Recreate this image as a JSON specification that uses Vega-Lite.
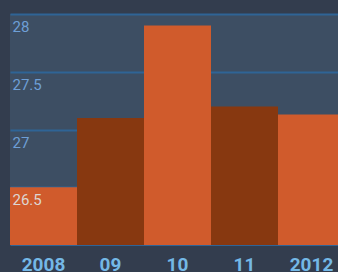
{
  "$schema": "https://vega.github.io/schema/vega-lite/v6.json",
  "width": 335,
  "height": 231,
  "autosize": "none",
  "padding": {"left": 10, "top": 14, "right": 0, "bottom": 27},
  "background": "#333d4e",
  "config": {
    "view": {"fill": "#3d4e63", "stroke": null},
    "font": "Roboto"
  },
  "data": {
    "values": [
      {"year": "2008", "value": 26.5, "shade": "light"},
      {"year": "09", "value": 27.1, "shade": "dark"},
      {"year": "10", "value": 27.9, "shade": "light"},
      {"year": "11", "value": 27.2, "shade": "dark"},
      {"year": "2012", "value": 27.13, "shade": "light"}
    ]
  },
  "encoding": {
    "x": {
      "field": "year",
      "type": "nominal",
      "sort": null,
      "scale": {"paddingInner": 0, "paddingOuter": 0},
      "axis": {
        "title": null,
        "labelAngle": 0,
        "ticks": false,
        "tickSize": 0,
        "domain": true,
        "domainColor": "#2f6496",
        "domainWidth": 1,
        "labelFont": "Roboto",
        "labelFontWeight": "bold",
        "labelFontSize": 19,
        "labelColor": "#74b8e6",
        "labelBaseline": "alphabetic",
        "labelPadding": 25
      }
    }
  },
  "layer": [
    {
      "mark": {"type": "bar", "clip": true},
      "encoding": {
        "y": {
          "field": "value",
          "type": "quantitative",
          "scale": {"domain": [26, 28], "nice": false, "zero": false},
          "axis": {
            "title": null,
            "values": [26.5, 27, 27.5, 28],
            "grid": true,
            "gridColor": "#2f6496",
            "gridWidth": 2,
            "gridOpacity": 1,
            "domain": false,
            "ticks": false,
            "labels": false,
            "zindex": 0,
            "minExtent": 0,
            "maxExtent": 0
          }
        },
        "color": {
          "field": "shade",
          "type": "nominal",
          "scale": {"domain": ["light", "dark"], "range": ["#d05b2c", "#873810"]},
          "legend": null
        }
      }
    },
    {
      "mark": {"type": "bar", "clip": true, "opacity": 0},
      "encoding": {
        "y": {
          "field": "value",
          "type": "quantitative",
          "axis": {
            "title": null,
            "orient": "left",
            "values": [26.5, 27, 27.5, 28],
            "format": "~g",
            "grid": false,
            "domain": false,
            "ticks": false,
            "tickSize": 0,
            "zindex": 1,
            "labelAlign": "left",
            "labelBaseline": "alphabetic",
            "labelPadding": -2,
            "labelOffset": 17.5,
            "labelFont": "Roboto",
            "labelFontSize": 15,
            "labelColor": {"condition": {"test": "datum.value == 26.5", "value": "#ddd6d2"}, "value": "#6e9fd6"},
            "labelFlush": false,
            "labelOverlap": false,
            "minExtent": 0,
            "maxExtent": 0
          }
        }
      }
    }
  ],
  "resolve": {"axis": {"y": "independent"}}
}
